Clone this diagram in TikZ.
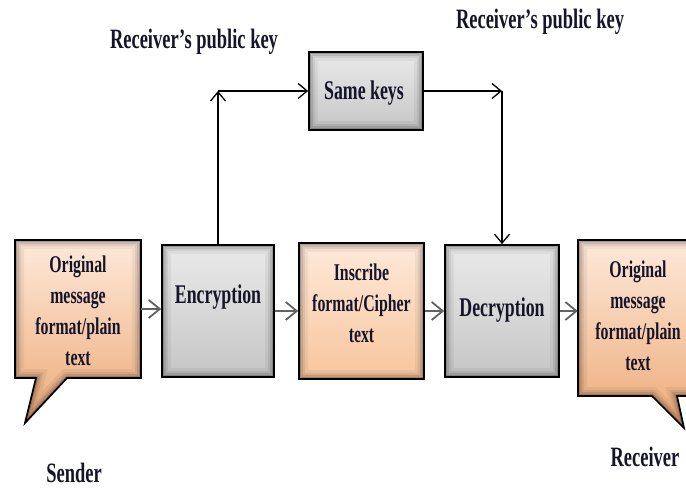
\documentclass[tikz,border=0pt]{standalone}
\usepackage{fontspec}
\setmainfont{Liberation Serif}[FakeStretch=0.66]
\usetikzlibrary{arrows.meta}

\definecolor{peachtop}{HTML}{FEE9DA}
\definecolor{peachbot}{HTML}{F7C59C}
\definecolor{tailbot}{HTML}{EDAA78}
\definecolor{greytop}{HTML}{EAEAEA}
\definecolor{greybot}{HTML}{C6C6C6}
\definecolor{ink}{HTML}{15152A}

% speech-bubble outlines (box with a pointed tail)
\newcommand\senderbubble[1]{\path[#1] (15,248) -- (141,248) -- (141,110) -- (67,110) -- (25,65) -- (36,110) -- (15,110) -- cycle;}
\newcommand\receiverbubble[1]{\path[#1] (578,248) -- (698,248) -- (698,92) -- (677,92) -- (684,60) -- (652,92) -- (578,92) -- cycle;}
% soft dark rim inside a bubble
\newcommand\bubbleshade[1]{%
  \begin{scope}
    #1{clip}
    \foreach \w/\o in {18/0.05,12/0.07,8/0.10,4/0.16}{#1{draw=black,line width=\w pt,opacity=\o}}
  \end{scope}}

\begin{document}
\begin{tikzpicture}[x=1pt,y=1pt,
  innershadow/.style={path picture={
    \foreach \w/\o in {18/0.05,12/0.07,8/0.10,4/0.16}{
      \draw[line width=\w pt,black,opacity=\o]
        (path picture bounding box.south west) rectangle (path picture bounding box.north east);}}},
  greybox/.style={draw=black,line width=1.7pt,top color=greytop,bottom color=greybot,innershadow,inner sep=0pt},
  peachbox/.style={draw=black,line width=1.7pt,top color=peachtop,bottom color=peachbot,innershadow,inner sep=0pt},
  boxtext/.style={align=center,font=\bfseries\fontsize{24}{31}\selectfont,text=ink,inner sep=0pt},
  stagetext/.style={font=\bfseries\fontsize{27}{30}\selectfont,text=ink,inner sep=0pt},
  keylabel/.style={font=\bfseries\fontsize{28}{32}\selectfont,text=ink,inner sep=0pt},
  keyline/.style={line width=1.3pt,draw=black,-{Straight Barb[length=9pt,width=15pt,line width=1.3pt]}},
  flow/.style={line width=2pt,draw=black!62,-{Straight Barb[length=11pt,width=18pt,line width=1.8pt]}},
]
\fill[white] (0,0) rectangle (686,488);
\clip (0,0) rectangle (686,488);

% sender bubble
\senderbubble{top color=peachtop,bottom color=tailbot}
\bubbleshade{\senderbubble}
\senderbubble{draw=black,line width=1.7pt,line join=miter}
\node[minimum width=126pt,minimum height=138pt,inner sep=0pt] (sender) at (78,179) {};
\node[boxtext] (sendertext) at (78,177) {Original\\message\\format/plain\\text};

% receiver bubble
\receiverbubble{top color=peachtop,bottom color=tailbot}
\bubbleshade{\receiverbubble}
\receiverbubble{draw=black,line width=1.7pt,line join=miter}
\node[minimum width=120pt,minimum height=156pt,inner sep=0pt] (recv) at (638,170) {};
\node[boxtext] (recvtext) at (638,172) {Original\\message\\format/plain\\text};

% processing stages
\node[greybox,minimum width=112pt,minimum height=132pt] (enc) at (218,177) {};
\node[stagetext] (enctext) at (218,191) {Encryption};
\node[peachbox,minimum width=125pt,minimum height=136pt] (insc) at (361.5,177) {};
\node[boxtext] (insctext) at (361.5,185) {Inscribe\\format/Cipher\\text};
\node[greybox,minimum width=114pt,minimum height=132pt] (dec) at (502,177) {};
\node[stagetext] (dectext) at (502,178) {Decryption};
\node[greybox,minimum width=114pt,minimum height=78pt] (same) at (366,397) {};
\node[stagetext] (sametext) at (364,395) {Same keys};

% key path
\draw[keyline] (enc.north) -- (enc.north |- same.west);
\draw[keyline] (enc.north |- same.west) -- (same.west);
\draw[keyline] (same.east) -- (dec.north |- same.east);
\draw[keyline] (dec.north |- same.east) -- (dec.north);

% message flow
\draw[flow] (sender.east) -- (sender.east -| enc.west);
\draw[flow] (enc.east) -- (enc.east -| insc.west);
\draw[flow] (insc.east) -- (insc.east -| dec.west);
\draw[flow] (dec.east) -- (dec.east -| recv.west);

% captions
\node[keylabel] (keyleft) at (194,446) {Receiver’s public key};
\node[keylabel] (keyright) at (540,466) {Receiver’s public key};
\node[keylabel] (sendername) at (74,15) {Sender};
\node[keylabel] (recvname) at (645,31) {Receiver};
\end{tikzpicture}
\end{document}
